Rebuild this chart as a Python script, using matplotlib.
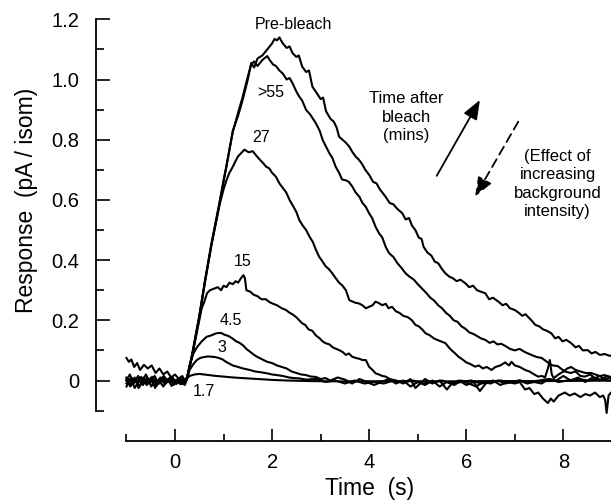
import matplotlib
matplotlib.use("Agg")
import matplotlib.pyplot as plt
from matplotlib.ticker import FixedLocator

plt.rcParams['font.family'] = ['Liberation Sans', 'DejaVu Sans']

# ---- data: (time s, response pA/isom) ----
pre_bleach = [(-1.0,0.01),(-0.9,-0.015),(-0.82,0.005),(-0.73,-0.02),(-0.65,0.01),(-0.55,-0.01),(-0.47,0.012),
    (-0.38,-0.018),(-0.3,0.004),(-0.2,-0.012),(-0.12,0.008),(-0.03,-0.015),(0.06,0.006),(0.14,-0.01),(0.2,0.0),
    (0.25,0.01),(0.35,0.08),(0.5,0.21),(0.62,0.33),(0.75,0.45),(0.92,0.59),(1.0,0.66),(1.06,0.71),(1.19,0.83),
    (1.3,0.88),(1.39,0.93),(1.5,1.0),(1.57,1.055),(1.63,1.04),(1.7,1.07),(1.8,1.08),(1.9,1.1),(2.0,1.12),
    (2.05,1.135),(2.1,1.13),(2.15,1.14),(2.22,1.12),(2.3,1.105),(2.36,1.11),(2.42,1.088),(2.5,1.075),(2.55,1.08),
    (2.62,1.043),(2.7,1.025),(2.76,1.03),(2.83,0.976),(2.92,0.955),(3.0,0.935),(3.05,0.94),(3.11,0.895),
    (3.2,0.87),(3.27,0.86),(3.33,0.84),(3.38,0.81),(3.45,0.8),(3.52,0.79),(3.59,0.777),(3.65,0.76),(3.72,0.744),
    (3.78,0.735),(3.85,0.72),(3.92,0.70),(4.0,0.683),(4.08,0.66),(4.15,0.655),(4.22,0.635),(4.34,0.61),
    (4.42,0.59),(4.5,0.585),(4.58,0.57),(4.68,0.556),(4.75,0.535),(4.82,0.54),(4.88,0.515),(4.95,0.5),
    (5.02,0.475),(5.08,0.47),(5.12,0.444),(5.2,0.425),(5.28,0.415),(5.35,0.395),(5.42,0.39),(5.5,0.37),
    (5.57,0.356),(5.65,0.345),(5.72,0.34),(5.8,0.33),(5.88,0.335),(5.98,0.323),(6.06,0.31),(6.14,0.315),
    (6.22,0.3),(6.3,0.295),(6.39,0.29),(6.47,0.27),(6.55,0.275),(6.66,0.262),(6.75,0.25),(6.82,0.255),
    (6.9,0.24),(7.0,0.234),(7.08,0.225),(7.15,0.215),(7.22,0.22),(7.34,0.2),(7.42,0.185),(7.5,0.18),
    (7.58,0.17),(7.66,0.165),(7.75,0.157),(7.83,0.14),(7.9,0.145),(7.98,0.13),(8.06,0.135),(8.16,0.124),
    (8.25,0.11),(8.32,0.115),(8.4,0.1),(8.5,0.101),(8.58,0.09),(8.66,0.095),(8.75,0.085),(8.85,0.088),
    (8.95,0.082),(9.05,0.085)]

post_55 = [(-1.0,0.0),(-0.93,0.02),(-0.85,-0.01),(-0.76,0.015),(-0.68,-0.005),(-0.6,0.02),(-0.51,-0.008),
    (-0.42,0.015),(-0.34,-0.01),(-0.25,0.012),(-0.16,-0.006),(-0.08,0.01),(0.02,-0.012),(0.1,0.008),(0.2,-0.005),
    (0.25,0.01),(0.35,0.085),(0.5,0.215),(0.62,0.335),(0.75,0.455),(0.92,0.595),(1.0,0.665),(1.06,0.715),
    (1.19,0.825),(1.3,0.89),(1.39,0.94),(1.5,1.01),(1.57,1.05),(1.63,1.06),(1.7,1.045),(1.8,1.065),(1.9,1.078),
    (1.95,1.065),(2.02,1.05),(2.08,1.045),(2.15,1.03),(2.22,1.02),(2.3,1.0),(2.36,1.005),(2.42,0.988),(2.5,0.96),
    (2.56,0.943),(2.62,0.93),(2.7,0.899),(2.78,0.885),(2.84,0.87),(2.9,0.855),(2.98,0.83),(3.04,0.8),(3.11,0.777),
    (3.18,0.755),(3.24,0.74),(3.31,0.71),(3.38,0.69),(3.44,0.668),(3.52,0.665),(3.58,0.66),(3.65,0.645),
    (3.72,0.625),(3.8,0.61),(3.86,0.59),(3.93,0.577),(4.0,0.555),(4.06,0.54),(4.13,0.511),(4.2,0.49),
    (4.27,0.475),(4.34,0.444),(4.41,0.423),(4.5,0.41),(4.58,0.39),(4.66,0.375),(4.75,0.356),(4.83,0.345),
    (4.92,0.335),(5.0,0.32),(5.09,0.305),(5.18,0.29),(5.26,0.275),(5.34,0.265),(5.42,0.25),(5.5,0.24),
    (5.58,0.225),(5.66,0.215),(5.74,0.2),(5.82,0.195),(5.9,0.18),(5.98,0.172),(6.06,0.16),(6.14,0.155),
    (6.22,0.148),(6.3,0.14),(6.39,0.135),(6.48,0.125),(6.56,0.13),(6.64,0.12),(6.72,0.122),(6.8,0.115),
    (6.9,0.105),(7.0,0.1),(7.1,0.105),(7.2,0.095),(7.34,0.085),(7.45,0.078),(7.55,0.075),(7.68,0.06),
    (7.78,0.05),(7.88,0.048),(8.03,0.03),(8.15,0.025),(8.25,0.03),(8.35,0.015),(8.44,0.013),(8.55,0.02),
    (8.65,0.008),(8.75,0.015),(8.85,0.003),(8.95,0.01),(9.05,0.0)]

post_27 = [(-1.0,-0.02),(-0.91,0.005),(-0.83,-0.025),(-0.74,0.0),(-0.66,-0.015),(-0.57,0.01),(-0.49,-0.02),
    (-0.4,0.005),(-0.32,-0.01),(-0.23,0.015),(-0.14,-0.005),(-0.05,0.01),(0.04,-0.01),(0.12,0.012),(0.2,0.0),
    (0.25,0.01),(0.35,0.08),(0.5,0.21),(0.62,0.33),(0.75,0.45),(0.92,0.585),(1.0,0.635),(1.06,0.665),
    (1.12,0.69),(1.19,0.71),(1.25,0.73),(1.3,0.745),(1.36,0.755),(1.43,0.767),(1.52,0.758),(1.6,0.762),
    (1.67,0.748),(1.74,0.735),(1.8,0.725),(1.88,0.71),(1.94,0.705),(2.0,0.69),(2.08,0.677),(2.15,0.655),
    (2.22,0.64),(2.29,0.625),(2.36,0.6),(2.43,0.58),(2.5,0.56),(2.56,0.533),(2.63,0.515),(2.7,0.5),
    (2.77,0.478),(2.84,0.46),(2.9,0.435),(2.97,0.411),(3.04,0.395),(3.1,0.38),(3.17,0.37),(3.24,0.356),
    (3.31,0.34),(3.38,0.325),(3.45,0.315),(3.52,0.3),(3.59,0.267),(3.66,0.262),(3.72,0.258),(3.79,0.256),
    (3.86,0.25),(3.93,0.24),(4.0,0.245),(4.07,0.25),(4.13,0.262),(4.2,0.257),(4.27,0.25),(4.34,0.255),
    (4.4,0.24),(4.47,0.245),(4.55,0.23),(4.62,0.225),(4.7,0.215),(4.8,0.21),(4.88,0.2),(4.95,0.185),
    (5.02,0.18),(5.09,0.17),(5.16,0.157),(5.25,0.15),(5.33,0.14),(5.4,0.135),(5.48,0.13),(5.57,0.124),
    (5.64,0.11),(5.7,0.1),(5.77,0.09),(5.84,0.079),(5.92,0.07),(6.0,0.06),(6.08,0.055),(6.18,0.046),
    (6.26,0.05),(6.34,0.04),(6.42,0.045),(6.52,0.035),(6.6,0.045),(6.7,0.05),(6.8,0.06),(6.88,0.05),
    (6.93,0.062),(7.0,0.05),(7.1,0.045),(7.21,0.035),(7.3,0.03),(7.4,0.02),(7.48,0.013),(7.56,0.015),
    (7.62,0.01),(7.68,0.04),(7.72,0.068),(7.76,0.02),(7.8,0.008),(7.9,0.02),(8.0,0.03),(8.08,0.04),
    (8.16,0.045),(8.25,0.035),(8.35,0.03),(8.45,0.025),(8.57,0.025),(8.66,0.02),(8.75,0.015),(8.85,0.018),
    (8.95,0.012),(9.05,0.015)]

post_15 = [(-1.0,0.075),(-0.95,0.062),(-0.9,0.07),(-0.84,0.045),(-0.78,0.058),(-0.72,0.035),(-0.64,0.052),
    (-0.56,0.04),(-0.48,0.05),(-0.4,0.025),(-0.32,0.04),(-0.24,0.02),(-0.16,0.03),(-0.08,0.01),(0.0,0.02),
    (0.08,0.005),(0.15,0.015),(0.2,0.0),(0.25,0.01),(0.35,0.08),(0.5,0.2),(0.55,0.24),(0.6,0.26),(0.66,0.29),
    (0.72,0.3),(0.8,0.305),(0.88,0.31),(0.95,0.3),(1.0,0.315),(1.06,0.31),(1.12,0.325),(1.19,0.32),
    (1.25,0.33),(1.3,0.325),(1.36,0.34),(1.41,0.35),(1.44,0.34),(1.47,0.3),(1.55,0.295),(1.62,0.285),
    (1.7,0.28),(1.78,0.27),(1.87,0.27),(1.95,0.26),(2.02,0.255),(2.1,0.25),(2.2,0.24),(2.29,0.234),
    (2.36,0.225),(2.42,0.22),(2.5,0.21),(2.56,0.2),(2.62,0.19),(2.68,0.185),(2.75,0.17),(2.83,0.165),
    (2.9,0.15),(2.98,0.14),(3.04,0.13),(3.1,0.124),(3.18,0.12),(3.25,0.11),(3.32,0.105),(3.38,0.101),
    (3.45,0.095),(3.52,0.085),(3.58,0.09),(3.65,0.079),(3.72,0.075),(3.8,0.072),(3.86,0.068),(3.93,0.068),
    (4.0,0.045),(4.07,0.035),(4.13,0.024),(4.2,0.02),(4.27,0.015),(4.34,0.013),(4.42,0.005),(4.55,0.0),
    (4.7,-0.01),(4.85,0.005),(4.95,-0.025),(5.05,-0.01),(5.15,0.005),(5.3,-0.01),(5.45,0.0),(5.6,-0.03),
    (5.7,-0.01),(5.85,0.0),(6.0,-0.015),(6.15,-0.005),(6.28,-0.035),(6.4,-0.01),(6.55,0.0),(6.7,-0.015),
    (6.85,-0.005),(7.0,-0.01),(7.1,-0.005),(7.21,-0.03),(7.3,-0.025),(7.4,-0.045),(7.48,-0.04),(7.58,-0.06),
    (7.68,-0.075),(7.74,-0.06),(7.8,-0.07),(7.9,-0.05),(8.03,-0.04),(8.13,-0.05),(8.23,-0.043),(8.35,-0.055),
    (8.45,-0.045),(8.55,-0.05),(8.65,-0.04),(8.75,-0.055),(8.82,-0.05),(8.86,-0.065),(8.89,-0.108),
    (8.93,-0.05),(8.98,-0.04),(9.05,-0.045)]

post_4_5 = [(-1.0,0.005),(-0.92,-0.02),(-0.83,0.01),(-0.75,-0.025),(-0.66,0.0),(-0.58,-0.015),(-0.49,0.01),
    (-0.41,-0.025),(-0.33,0.0),(-0.24,-0.02),(-0.15,0.005),(-0.07,-0.018),(0.03,0.0),(0.11,-0.012),(0.2,-0.01),
    (0.25,0.01),(0.3,0.05),(0.38,0.09),(0.45,0.11),(0.55,0.13),(0.65,0.145),(0.75,0.15),(0.85,0.157),
    (0.95,0.158),(1.02,0.152),(1.1,0.148),(1.18,0.14),(1.26,0.13),(1.33,0.125),(1.4,0.117),(1.47,0.105),
    (1.55,0.095),(1.63,0.085),(1.7,0.078),(1.8,0.07),(1.9,0.062),(2.0,0.058),(2.1,0.05),(2.2,0.045),
    (2.3,0.04),(2.4,0.03),(2.5,0.025),(2.6,0.02),(2.7,0.018),(2.8,0.013),(2.9,0.012),(3.0,0.005),(3.1,0.008),
    (3.2,0.0),(3.35,0.01),(3.5,0.003),(3.65,-0.01),(3.8,0.005),(3.95,-0.005),(4.1,-0.015),(4.25,-0.005),
    (4.4,0.005),(4.55,-0.01),(4.7,0.0),(4.85,-0.02),(5.0,-0.005),(5.15,-0.015),(5.3,0.0),(5.45,-0.02),
    (5.6,-0.005),(5.75,-0.015),(5.9,0.0),(6.05,-0.01),(6.2,-0.02),(6.35,-0.005),(6.5,-0.01),(6.65,0.0),
    (6.8,-0.01),(6.95,-0.005),(7.1,0.0),(7.25,-0.01),(7.4,-0.005),(7.55,-0.01),(7.7,0.005),(7.85,0.0),
    (8.0,0.015),(8.15,0.0),(8.3,0.01),(8.45,-0.005),(8.6,0.01),(8.75,0.0),(8.9,0.015),(9.05,0.005)]

post_3 = [(-1.0,-0.01),(-0.9,0.01),(-0.8,-0.005),(-0.7,0.012),(-0.6,-0.01),(-0.5,0.008),(-0.4,-0.012),
    (-0.3,0.01),(-0.2,-0.008),(-0.1,0.006),(0.0,-0.01),(0.1,0.005),(0.2,-0.015),(0.25,0.005),(0.3,0.035),
    (0.38,0.055),(0.45,0.068),(0.52,0.075),(0.6,0.078),(0.68,0.08),(0.75,0.079),(0.82,0.078),(0.9,0.075),
    (0.98,0.07),(1.05,0.062),(1.12,0.056),(1.19,0.05),(1.3,0.045),(1.4,0.04),(1.54,0.035),(1.65,0.03),
    (1.78,0.027),(1.89,0.024),(2.0,0.02),(2.1,0.018),(2.22,0.015),(2.35,0.01),(2.45,0.008),(2.56,0.007),
    (2.7,0.003),(2.9,0.005),(3.1,-0.005),(3.3,0.0),(3.5,-0.01),(3.7,0.0),(3.9,-0.01),(4.1,-0.005),
    (4.3,-0.01),(4.5,0.0),(4.7,-0.005),(4.9,0.0),(5.1,-0.01),(5.3,-0.005),(5.5,0.0),(5.7,-0.01),
    (5.9,-0.005),(6.1,0.0),(6.3,-0.01),(6.5,-0.005),(6.7,0.0),(6.9,-0.005),(7.1,0.0),(7.3,-0.005),
    (7.5,0.0),(7.7,0.005),(7.9,-0.005),(8.1,0.0),(8.3,0.005),(8.5,0.0),(8.7,0.005),(8.9,0.0),(9.05,0.0)]

post_1_7 = [(-1.0,0.0),(-0.85,0.005),(-0.7,-0.005),(-0.55,0.004),(-0.4,-0.004),(-0.25,0.003),(-0.1,-0.003),
    (0.05,0.002),(0.2,0.0),(0.3,0.015),(0.4,0.02),(0.5,0.022),(0.6,0.02),(0.7,0.018),(0.85,0.015),
    (1.0,0.013),(1.2,0.01),(1.4,0.008),(1.6,0.006),(1.8,0.004),(2.0,0.002),(2.3,0.0),(2.8,-0.002),
    (3.5,-0.003),(4.5,-0.002),(5.5,-0.003),(6.5,-0.002),(7.5,-0.002),(8.5,-0.001),(9.05,0.0)]

traces = [pre_bleach, post_55, post_27, post_15, post_4_5, post_3, post_1_7]

# trace labels (text, x, y)
trace_labels = [("Pre-bleach", 2.43, 1.184), (">55", 1.98, 0.957), ("27", 1.77, 0.807),
                ("15", 1.39, 0.397), ("4.5", 1.14, 0.198), ("3", 0.96, 0.11), ("1.7", 0.60, -0.038)]

x_major = [0, 2, 4, 6, 8]
x_minor = [-1, 1, 3, 5, 7]
y_major = [0, 0.2, 0.4, 0.6, 0.8, 1.0, 1.2]
y_major_labels = ["0", "0.2", "0.4", "0.6", "0.8", "1.0", "1.2"]
y_minor = [-0.1, 0.1, 0.3, 0.5, 0.7, 0.9, 1.1]

# ---- figure ----
W, H = 611, 500
fig = plt.figure(figsize=(W / 100, H / 100), dpi=100)
ax = fig.add_axes([96 / W, 1 - 441 / H, (611 - 96) / W, (441 - 10) / H])
ax.set_xlim(-1.627, 8.98)
ax.set_ylim(-0.201, 1.231)

for tr in traces:
    ts = [p[0] for p in tr]
    vs = [p[1] for p in tr]
    ax.plot(ts, vs, color='black', lw=1.5, solid_joinstyle='round')

for txt, x, y in trace_labels:
    ax.text(x, y, txt, fontsize=11.5, ha='center', va='center')

ax.text(4.76, 0.875, "Time after\nbleach\n(mins)", fontsize=12, ha='center', va='center',
        linespacing=1.3)
ax.text(7.88, 0.653, "(Effect of\nincreasing\nbackground\nintensity)", fontsize=12,
        ha='center', va='center', linespacing=1.3)

ax.annotate("", xy=(6.28, 0.932), xytext=(5.39, 0.680),
            arrowprops=dict(arrowstyle='-|>,head_length=0.9,head_width=0.35', lw=1.3,
                            color='black', shrinkA=0, shrinkB=0, mutation_scale=13))
ax.annotate("", xy=(6.18, 0.611), xytext=(7.07, 0.860),
            arrowprops=dict(arrowstyle='-|>,head_length=0.9,head_width=0.35', lw=1.3,
                            color='black', shrinkA=0, shrinkB=0, mutation_scale=13,
                            linestyle=(0, (5, 3))))

for s in ['top', 'right']:
    ax.spines[s].set_visible(False)
ax.spines['left'].set_bounds(-0.1, 1.2)
ax.spines['bottom'].set_bounds(-1, 9)
for s in ['left', 'bottom']:
    ax.spines[s].set_linewidth(1.3)

ax.xaxis.set_major_locator(FixedLocator(x_major))
ax.xaxis.set_minor_locator(FixedLocator(x_minor))
ax.set_xticklabels([str(v) for v in x_major])
ax.yaxis.set_major_locator(FixedLocator(y_major))
ax.yaxis.set_minor_locator(FixedLocator(y_minor))
ax.set_yticklabels(y_major_labels)

ax.tick_params(axis='y', which='major', direction='in', length=10, width=1.2, pad=12, labelsize=14.5)
ax.tick_params(axis='y', which='minor', direction='in', length=6, width=1.2)
ax.tick_params(axis='x', which='major', direction='in', length=9, width=1.2, pad=9, labelsize=14.5)
ax.tick_params(axis='x', which='minor', direction='in', length=5, width=1.2)

fig.text(27 / W, 1 - 200 / H, "Response  (pA / isom)", rotation=90, fontsize=16.5,
         ha='center', va='center')
fig.text(370 / W, 1 - 489 / H, "Time  (s)", fontsize=16.5, ha='center', va='center')

fig.savefig("out.png", dpi=100)
